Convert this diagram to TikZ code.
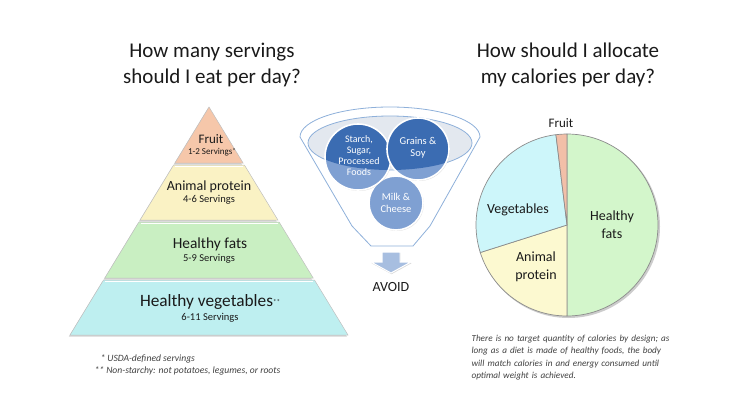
\documentclass[tikz,border=0pt]{standalone}
\usepackage{fontspec}
\setmainfont{Carlito}
\usetikzlibrary{shadows}
\definecolor{fruitc}{HTML}{F6C7AA}
\definecolor{animalc}{HTML}{FAF2C4}
\definecolor{fatsc}{HTML}{C9EFC2}
\definecolor{vegc}{HTML}{BEEFF0}
\definecolor{pfats}{HTML}{D3F6CB}
\definecolor{pveg}{HTML}{CDF6FA}
\definecolor{panimal}{HTML}{FCF9D0}
\definecolor{pfruit}{HTML}{F2BFA8}
\definecolor{funnelblue}{HTML}{8EB0DA}
\definecolor{ellgrey}{HTML}{E3E8EF}
\definecolor{circlight}{HTML}{7FA0D2}
\definecolor{circdark}{HTML}{3B6CB2}
\definecolor{arrowc}{HTML}{A7BEE0}
\definecolor{txt}{HTML}{1A1A1A}
\definecolor{notec}{HTML}{404040}
\newcommand{\tinysup}[1]{\raisebox{0.1em}{\fontsize{7}{7}\selectfont #1}}
\tikzset{
  band/.style={draw=black!25, line width=0.5pt, drop shadow={shadow xshift=-1.2pt, shadow yshift=-1.5pt, opacity=0.35}},
  hilite/.style={draw=white, line width=1pt},
  title/.style={font=\fontsize{21}{26}\selectfont, text=txt, align=center},
  pyrbig/.style={font=\fontsize{14}{16}\selectfont, text=txt},
  pyrsmall/.style={font=\fontsize{10.5}{12}\selectfont, text=txt},
  circtext/.style={font=\fontsize{10}{11}\selectfont, text=white, align=center},
  pielabel/.style={font=\fontsize{14}{17.5}\selectfont, text=txt, align=center},
  slice/.style={draw=black!45, line width=0.7pt},
  note/.style={font=\fontsize{9.6}{12.3}\selectfont\itshape, text=notec, align=left},
}
\begin{document}
\begin{tikzpicture}[x=1pt,y=-1pt]
\useasboundingbox (0,0) rectangle (739,404);

% titles
\node[title] (t1) at (212,65) {How many servings\\should I eat per day?};
\node[title] (t2) at (568,65) {How should I allocate\\my calories per day?};

% pyramid
\path[band, fill=vegc] (103.5,280) -- (314.5,280) -- (348,335) -- (70,335) -- cycle;
\path[band, fill=fatsc] (138.9,222) -- (279.1,222) -- (313.2,278) -- (104.8,278) -- cycle;
\path[band, fill=animalc] (173.6,165) -- (244.4,165) -- (277.9,220) -- (140.1,220) -- cycle;
\path[band, fill=fruitc] (209,107) -- (243.1,163) -- (174.9,163) -- cycle;
\draw[hilite] (105,281.2) -- (313,281.2);
\draw[hilite] (140.5,223.2) -- (277.5,223.2);
\draw[hilite] (175.2,166.2) -- (242.8,166.2);

\node[pyrbig, font=\fontsize{13}{15}\selectfont] (fruit) at (211,139) {Fruit};
\node[pyrsmall, font=\fontsize{9}{11}\selectfont] (fruits) at (212,152.5) {1-2 Servings\tinysup{*}};
\node[pyrbig] (animal) at (209,187) {Animal protein};
\node[pyrsmall] (animals) at (209,200) {4-6 Servings};
\node[pyrbig, font=\fontsize{15.4}{17}\selectfont] (fats) at (210,244) {Healthy fats};
\node[pyrsmall] (fatss) at (209,259) {5-9 Servings};
\node[pyrbig, font=\fontsize{17.3}{19}\selectfont] (veg) at (210,302) {Healthy vegetables\tinysup{**}};
\node[pyrsmall] (vegs) at (210,318) {6-11 Servings};

% footnotes
\node[note, anchor=west] (n1) at (97,359) {* USDA-defined servings};
\node[note, anchor=west] (n2) at (91,371) {** Non-starchy: not potatoes, legumes, or roots};

% funnel
\draw[funnelblue, line width=0.8pt, fill=white]
  (300,137) arc[start angle=180, end angle=360, x radius=90, y radius=30]
  -- (430,226) -- (413,246) -- (371,246) -- (352,226) -- cycle;
\draw[funnelblue, line width=0.8pt, fill=ellgrey] (390,143) ellipse[x radius=82, y radius=27];

% circles
\foreach \cx/\cy/\r in {396/203/27, 358/157/33, 418/149/31}{
  \fill[circlight, drop shadow={shadow xshift=0.8pt, shadow yshift=-1pt, opacity=0.25}] (\cx,\cy) circle[radius=\r];
  \begin{scope}
    \clip (390,143) ellipse[x radius=82, y radius=27];
    \fill[circdark] (\cx,\cy) circle[radius=\r];
  \end{scope}
  \draw[white, line width=1.6pt] (\cx,\cy) circle[radius=\r];
}
\node[circtext] (starch) at (359,155.5) {Starch,\\Sugar,\\Processed\\Foods};
\node[circtext, font=\fontsize{10.5}{12}\selectfont] (grains) at (418,148) {Grains \&\\Soy};
\node[circtext, font=\fontsize{10.5}{12}\selectfont] (milk) at (396,202.5) {Milk \&\\Cheese};

% arrow
\path[fill=arrowc, draw=white, line width=1pt, drop shadow={shadow xshift=0.5pt, shadow yshift=-1.2pt, opacity=0.3}]
  (382,252) -- (400,252) -- (400,262) -- (411,262) -- (391,273) -- (371,262) -- (382,262) -- cycle;
\node[font=\fontsize{14}{16}\selectfont, text=txt] (avoid) at (391,287) {AVOID};

% pie
\begin{scope}[shift={(567,225)}]
  \fill[black!20] (1.5,1.5) circle[radius=91.5];
  \path[slice, fill=pfats] (0,0) -- (-90:91) arc[start angle=-90, end angle=90, radius=91] -- cycle;
  \path[slice, fill=panimal] (0,0) -- (-197.6:91) arc[start angle=-197.6, end angle=-270, radius=91] -- cycle;
  \path[slice, fill=pveg] (0,0) -- (-97:91) arc[start angle=-97, end angle=-197.6, radius=91] -- cycle;
  \path[slice, fill=pfruit] (0,0) -- (-90:91) arc[start angle=-90, end angle=-97, radius=91] -- cycle;
\end{scope}
\node[pielabel, font=\fontsize{13}{15}\selectfont] (pfruitl) at (561,123) {Fruit};
\node[pielabel] (pvegl) at (518,210) {Vegetables};
\node[pielabel] (pfatsl) at (612,224.5) {Healthy\\fats};
\node[pielabel] (panimall) at (536,267) {Animal\\protein};

% note right
\node[note, anchor=north west, text width=220pt, font=\fontsize{9.2}{12.3}\selectfont\itshape] (n3) at (468,331.5) {There is no target quantity of calories by design; as\\long as a diet is made of healthy foods, the body\\will match calories in and energy consumed until\\optimal weight is achieved.};
\end{tikzpicture}
\end{document}
